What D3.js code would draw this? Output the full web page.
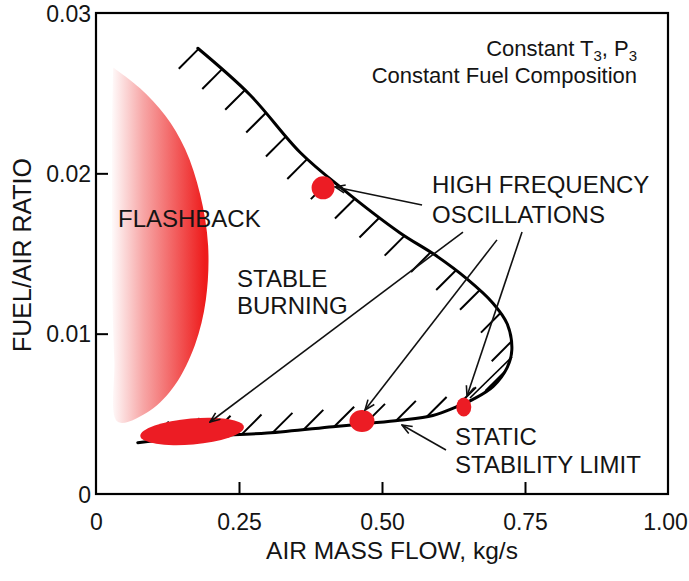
<!DOCTYPE html>
<html><head><meta charset="utf-8">
<script src="https://cdn.jsdelivr.net/npm/d3@7"></script>
<style>
body{margin:0;background:#fff}
svg{display:block}
text{font-family:"Liberation Sans",Arial,sans-serif;fill:#141414}
</style>
</head><body>
<svg id="chart" width="689" height="581"></svg>
<script>
// ---------------- data ----------------
const xTickValues = [0, 0.25, 0.5, 0.75, 1.0];
const xTickLabels = ["0", "0.25", "0.50", "0.75", "1.00"];
const yTickValues = [0, 0.01, 0.02, 0.03];
const yTickLabels = ["0", "0.01", "0.02", "0.03"];

// static stability limit curve (air mass flow, fuel/air ratio)
const limitX = [0.178,0.269,0.357,0.432,0.531,0.593,0.649,0.694,0.719,0.727,0.719,0.694,0.659,0.628,0.589,0.531,0.474,0.414,0.299,0.182,0.073];
const limitY = [0.0278,0.0249,0.0213,0.0190,0.0163,0.0149,0.0134,0.0119,0.0106,0.0090,0.0079,0.0067,0.0059,0.0054,0.0049,0.0046,0.0044,0.0042,0.0038,0.0036,0.0032];

// flashback region outline (right edge down, left edge up)
const flashX = [0.030,0.077,0.121,0.156,0.182,0.196,0.192,0.173,0.138,0.094,0.038,0.032,0.028,0.028,0.028,0.030];
const flashY = [0.0266,0.0253,0.0236,0.0215,0.0187,0.0155,0.0121,0.0093,0.0068,0.0052,0.0045,0.0084,0.0134,0.0183,0.0227,0.0266];

// high-frequency oscillation spots
const spotX = [0.168, 0.397, 0.465, 0.643];
const spotY = [0.0039, 0.0191, 0.00455, 0.00543];

// leader arrows [x1, y1, x2, y2]
const arrowX1 = [0.570, 0.6416, 0.7010, 0.7448, 0.6119];
const arrowY1 = [0.01803, 0.01634, 0.01585, 0.01634, 0.00274];
const arrowX2 = [0.418, 0.1993, 0.4703, 0.6486, 0.5350];
const arrowY2 = [0.01915, 0.00449, 0.00524, 0.00611, 0.00430];
// plain connector (no head)
const chordX = [0.7273, 0.6538];
const chordY = [0.00855, 0.00599];

// ---------------- style ----------------
const RED = "#ec1c24";
const spotRx = [52, 11.5, 12.5, 7.5];
const spotRy = [13, 11.5, 11, 9.5];
const spotRot = [-5, 0, 0, 0];

const svg = d3.select("#chart");
const x = d3.scaleLinear().domain([0, 1]).range([96, 668]);
const y = d3.scaleLinear().domain([0, 0.03]).range([494, 13]);

const defs = svg.append("defs");
const grad = defs.append("linearGradient").attr("id", "fb")
  .attr("gradientUnits", "userSpaceOnUse")
  .attr("x1", x(0.025)).attr("x2", x(0.19)).attr("y1", 0).attr("y2", 0);
grad.append("stop").attr("offset", 0).attr("stop-color", "#ffffff");
grad.append("stop").attr("offset", 0.35).attr("stop-color", "#f7a6a6");
grad.append("stop").attr("offset", 1).attr("stop-color", "#ee1c1c");

defs.append("marker").attr("id", "ah")
  .attr("viewBox", "0 0 12 10").attr("refX", 11).attr("refY", 5)
  .attr("markerWidth", 12).attr("markerHeight", 10)
  .attr("markerUnits", "userSpaceOnUse").attr("orient", "auto")
  .append("path").attr("d", "M1,1 L11,5 L1,9")
  .attr("fill", "none").attr("stroke", "#111").attr("stroke-width", 1.6);

// flashback region
const fbLine = d3.line().x(d => x(d[0])).y(d => y(d[1])).curve(d3.curveCatmullRom.alpha(0.5));
svg.append("path")
  .attr("d", fbLine(d3.zip(flashX, flashY)) + "Z")
  .attr("fill", "url(#fb)");

// stability limit curve
const limLine = d3.line().x(d => x(d[0])).y(d => y(d[1])).curve(d3.curveCatmullRom.alpha(0.5));
const limitPath = svg.append("path")
  .attr("d", limLine(d3.zip(limitX, limitY)))
  .attr("fill", "none").attr("stroke", "#000").attr("stroke-width", 3)
  .attr("stroke-linecap", "round");

// hatching along the curve, inside the stable region
const node = limitPath.node();
const total = node.getTotalLength();
const poly = d3.range(0, total, 2).map(s => { const p = node.getPointAtLength(s); return [p.x, p.y]; });
const pEnd = node.getPointAtLength(total), pStart = node.getPointAtLength(0);
poly.push([pEnd.x, pEnd.y], [x(0) - 60, pEnd.y], [x(0) - 60, pStart.y]);
const HL = 28, dirs = [[-Math.SQRT1_2, Math.SQRT1_2], [Math.SQRT1_2, -Math.SQRT1_2]];
for (let s = 1; s < total - 2; s += 31) {
  const p = node.getPointAtLength(s);
  let best = null;
  dirs.forEach(d => {
    let t = 2;
    if (!d3.polygonContains(poly, [p.x + d[0] * 3, p.y + d[1] * 3])) return;
    while (t < HL && d3.polygonContains(poly, [p.x + d[0] * (t + 1), p.y + d[1] * (t + 1)])) t++;
    if (!best || t > best.t) best = {d, t};
  });
  if (best && best.t > 6) {
    svg.append("line")
      .attr("x1", p.x).attr("y1", p.y)
      .attr("x2", p.x + best.d[0] * best.t).attr("y2", p.y + best.d[1] * best.t)
      .attr("stroke", "#000").attr("stroke-width", 2);
  }
}
limitPath.raise();

// connector chord
svg.append("line")
  .attr("x1", x(chordX[0])).attr("y1", y(chordY[0]))
  .attr("x2", x(chordX[1])).attr("y2", y(chordY[1]))
  .attr("stroke", "#000").attr("stroke-width", 1.6);

// red spots
svg.selectAll("ellipse.spot").data(d3.range(spotX.length)).join("ellipse")
  .attr("class", "spot")
  .attr("cx", 0).attr("cy", 0)
  .attr("rx", i => spotRx[i]).attr("ry", i => spotRy[i])
  .attr("transform", i => `translate(${x(spotX[i])},${y(spotY[i])}) rotate(${spotRot[i]})`)
  .attr("fill", RED);

// arrows
svg.selectAll("line.arr").data(d3.range(arrowX1.length)).join("line")
  .attr("class", "arr")
  .attr("x1", i => x(arrowX1[i])).attr("y1", i => y(arrowY1[i]))
  .attr("x2", i => x(arrowX2[i])).attr("y2", i => y(arrowY2[i]))
  .attr("stroke", "#111").attr("stroke-width", 1.6)
  .attr("marker-end", "url(#ah)");

// axes
const xAxis = d3.axisBottom(x).tickValues(xTickValues)
  .tickFormat((d, i) => xTickLabels[i]).tickSizeInner(-12).tickSizeOuter(0).tickPadding(20);
const gx = svg.append("g").attr("transform", `translate(0,${y(0)})`).call(xAxis);
const yAxis = d3.axisLeft(y).tickValues(yTickValues)
  .tickFormat((d, i) => yTickLabels[i]).tickSizeInner(-12).tickSizeOuter(0).tickPadding(5);
const gy = svg.append("g").attr("transform", `translate(${x(0)},0)`).call(yAxis);
[gx, gy].forEach(g => {
  g.select(".domain").remove();
  g.selectAll(".tick line").attr("stroke", "#000").attr("stroke-width", 2)
    .filter(d => d === 0 || d === 1 || d === 0.03).remove();
  g.selectAll(".tick text").attr("font-size", 23)
    .attr("font-family", '"Liberation Sans",Arial,sans-serif').attr("fill", "#141414");
});
gy.selectAll(".tick text").attr("dy", "0.36em");
gx.selectAll(".tick text").filter(d => d === 1).attr("x", -3);

// frame
svg.append("rect")
  .attr("x", x(0)).attr("y", y(0.03))
  .attr("width", x(1) - x(0)).attr("height", y(0) - y(0.03))
  .attr("fill", "none").attr("stroke", "#000").attr("stroke-width", 2.2);

// axis titles
svg.append("text").attr("x", 392).attr("y", 559).attr("text-anchor", "middle")
  .attr("font-size", 24.5).text("AIR MASS FLOW, kg/s");
svg.append("text").attr("transform", "translate(31,255) rotate(-90)")
  .attr("text-anchor", "middle").attr("font-size", 25).text("FUEL/AIR RATIO");

// annotations
const c1 = svg.append("text").attr("x", 637).attr("y", 56).attr("text-anchor", "end").attr("font-size", 22);
c1.append("tspan").text("Constant T");
c1.append("tspan").attr("font-size", 15).attr("dy", 5).text("3");
c1.append("tspan").attr("dy", -5).text(", P");
c1.append("tspan").attr("font-size", 15).attr("dy", 5).text("3");
svg.append("text").attr("x", 637).attr("y", 83).attr("text-anchor", "end").attr("font-size", 22)
  .text("Constant Fuel Composition");

const labels = [
  ["FLASHBACK", 118, 227],
  ["STABLE", 237, 287],
  ["BURNING", 237, 314],
  ["HIGH FREQUENCY", 432, 193],
  ["OSCILLATIONS", 432, 223],
  ["STATIC", 455, 445],
  ["STABILITY LIMIT", 455, 473]
];
svg.selectAll("text.lab").data(labels).join("text").attr("class", "lab")
  .attr("x", d => d[1]).attr("y", d => d[2]).attr("font-size", 24).text(d => d[0]);
</script>
</body></html>
